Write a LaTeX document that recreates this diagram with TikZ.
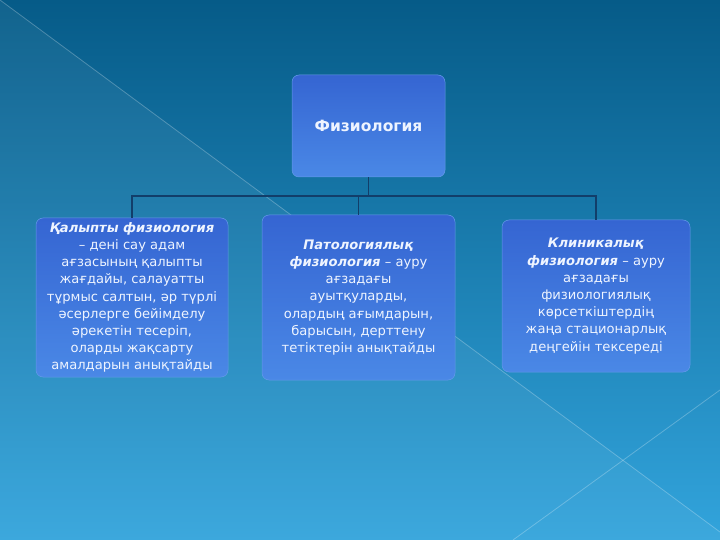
\documentclass[tikz,border=0pt]{standalone}
\usepackage{fontspec}
\setmainfont{DejaVu Sans}
\definecolor{bgtop}{HTML}{065B88}
\definecolor{bgbot}{HTML}{32A4DC}
\definecolor{boxa}{HTML}{3565D2}
\definecolor{boxb}{HTML}{4A88E6}
\definecolor{conn}{HTML}{123E6A}
\definecolor{txt}{HTML}{EEF4FF}
\tikzset{
  card/.style={rounded corners=7pt, top color=boxa, bottom color=boxb, draw=boxb!85!white, line width=0.5pt,
    text=txt, align=center, inner sep=0pt,
    font=\fontsize{13.1}{17.2}\selectfont},
  wire/.style={draw=conn, line width=1.5pt},
  diag/.style={draw=white, opacity=0.25, line width=0.8pt}
}
\newcommand{\bi}[1]{\textbf{\textit{#1}}}
\begin{document}
\begin{tikzpicture}[x=1pt,y=-1pt]
\useasboundingbox (0,0) rectangle (720,540);
\shade[top color=bgtop, bottom color=bgbot] (0,0) rectangle (720,540);
\fill[white, opacity=0.05] (0,0) -- (720,532) -- (720,540) -- (0,540) -- cycle;
\draw[diag] (0,0) -- (720,532);
\draw[diag] (513,540) -- (720,390);

\node[card, minimum width=153pt, minimum height=102pt, font=\bfseries\fontsize{15.5}{17}\selectfont] (top) at (368.5,126) {Физиология};

\node[card, minimum width=192pt, minimum height=159pt] (left) at (132,297.5)
 {\bi{Қалыпты физиология}\\ – дені сау адам\\ ағзасының қалыпты\\ жағдайы, салауатты\\ тұрмыс салтын, әр түрлі\\ әсерлерге бейімделу\\ әрекетін тесеріп,\\ оларды жақсарту\\ амалдарын анықтайды};

\node[card, minimum width=193pt, minimum height=165pt] (mid) at (358.5,297.5)
 {\bi{Патологиялық}\\ \bi{физиология} – ауру\\ ағзадағы\\ ауытқуларды,\\ олардың ағымдарын,\\ барысын, дерттену\\ тетіктерін анықтайды};

\node[card, minimum width=188pt, minimum height=152pt] (right) at (596,296)
 {\bi{Клиникалық}\\ \bi{физиология} – ауру\\ ағзадағы\\ физиологиялық\\ көрсеткіштердің\\ жаңа стационарлық\\ деңгейін тексереді};

\coordinate (j) at (368.5,196);
\draw[wire] (top.south) -- (j);
\draw[wire] (left.north) |- (j) -| (right.north);
\draw[wire] (mid.north) -- (mid.north |- j);
\end{tikzpicture}
\end{document}
